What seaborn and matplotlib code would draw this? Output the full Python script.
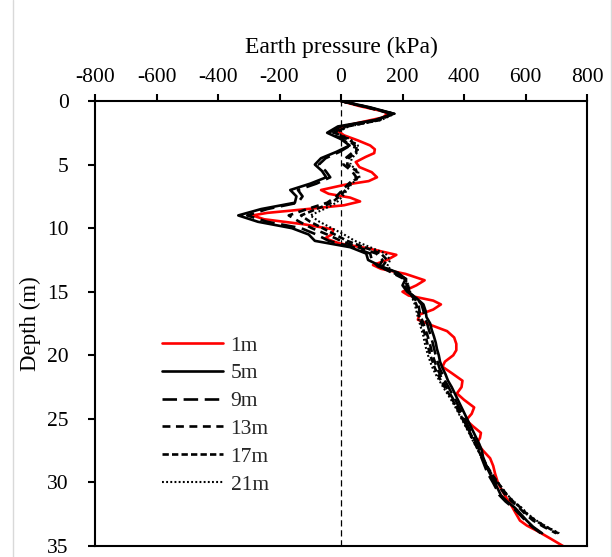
import matplotlib
matplotlib.use("Agg")
import matplotlib.pyplot as plt
import matplotlib.lines as mlines
import seaborn as sns
import pandas as pd

# Earth pressure profiles along depth for several excavation stages
depth_1m = [0, 0.4, 0.8, 1.0, 1.3, 1.7, 2.0, 2.3, 2.7, 3.1, 3.5, 3.8, 4.1, 4.4, 4.8,
            5.2, 5.6, 6.0, 6.3, 6.6, 7.0, 7.3, 7.6, 7.9, 8.2, 8.5, 8.8, 9.0, 9.3,
            9.7, 10.1, 10.5, 10.8, 11.2, 11.6, 12.1, 12.5, 12.9, 13.2, 13.6, 14.1,
            14.5, 15.0, 15.3, 15.7, 16.0, 16.4, 16.8, 17.2, 17.6, 18.1, 18.6, 19.1,
            19.6, 20.0, 20.5, 20.9, 21.4, 22.0, 22.5, 23.0, 23.5, 24.1, 24.6, 25.1,
            25.6, 26.1, 26.5, 26.9, 27.5, 28.1, 28.7, 29.3, 30.0, 30.6, 31.3, 31.9,
            32.5, 33.0, 33.4, 33.8, 34.4, 35.0]
pressure_1m = [0, 60, 135, 152, 135, 60, 5, -14, 10, 55, 95, 110, 108, 80, 48,
               60, 100, 117, 90, 10, -65, -40, 30, 62, 10, -110, -240, -288, -250,
               -120, -25, -30, -52, -5, 90, 180, 150, 104, 130, 210, 272,
               245, 200, 220, 300, 325, 300, 255, 250, 290, 345, 368, 375,
               375, 365, 338, 330, 360, 395, 392, 377, 400, 433, 425, 407,
               430, 455, 452, 442, 462, 485, 495, 501, 510, 523, 540, 556,
               570, 582, 605, 637, 680, 722]

# Depth stations shared by the deeper stages (0 to 34 m, every 0.5 m)
depth = [0, 0.5, 1, 1.5, 2, 2.5, 3, 3.5, 4, 4.5, 5, 5.5, 6, 6.5, 7, 7.5, 8, 8.5,
         9, 9.5, 10, 10.5, 11, 11.5, 12, 12.5, 13, 13.5, 14, 14.5, 15, 15.5, 16,
         16.5, 17, 17.5, 18, 18.5, 19, 19.5, 20, 20.5, 21, 21.5, 22, 22.5, 23,
         23.5, 24, 24.5, 25, 25.5, 26, 26.5, 27, 27.5, 28, 28.5, 29, 29.5, 30,
         30.5, 31, 31.5, 32, 32.5, 33, 33.5, 34]

pressure_5m = [0, 95, 172, 110, -10, -45, 0, 28, -15, -65, -85, -62, -48, -100,
               -165, -145, -150, -260, -334, -270, -160, -105, -85, 30, 82, 88,
               130, 185, 210, 200, 215, 245, 268, 275, 278, 290, 295, 302, 308,
               312, 318, 322, 330, 340, 348, 360, 370, 380, 390, 400, 410, 420,
               430, 440, 450, 458, 462, 470, 478, 488, 500, 510, 520, 540, 566,
               585, 604, 625, 654]
pressure_9m = [0, 90, 168, 115, 0, -40, 5, 30, -5, -50, -72, -50, -35, -80,
               -140, -125, -140, -240, -305, -240, -130, -80, -40, 40, 95, 100,
               120, 175, 212, 205, 218, 245, 262, 268, 272, 280, 286, 292, 298,
               303, 308, 314, 320, 330, 338, 350, 360, 372, 382, 392, 402, 412,
               422, 432, 442, 450, 456, 464, 472, 482, 494, 505, 515, 535, 560,
               580, 600, 622, 650]
pressure_13m = [0, 85, 165, 120, 15, -25, 20, 45, 40, 15, 8, 35, 50, 25, 5, -15,
                -45, -110, -170, -135, -95, -45, 0, 55, 115, 135, 125, 165, 205,
                215, 220, 238, 252, 255, 260, 268, 275, 282, 288, 293, 298, 305,
                312, 322, 330, 342, 354, 366, 377, 387, 397, 407, 418, 428, 438,
                448, 458, 468, 480, 492, 506, 520, 535, 555, 580, 600, 625, 660,
                700]
pressure_17m = [0, 88, 170, 125, 20, -20, 25, 50, 50, 25, 20, 50, 55, 30, 15, -5,
                -30, -80, -130, -100, -60, -20, 20, 75, 130, 150, 135, 170, 208,
                218, 222, 235, 245, 250, 255, 262, 268, 275, 280, 285, 290, 298,
                305, 315, 325, 337, 350, 362, 374, 384, 395, 405, 416, 426, 437,
                447, 458, 470, 482, 495, 510, 525, 540, 560, 585, 605, 632, 668,
                706]
pressure_21m = [0, 85, 175, 130, 25, -15, 30, 55, 55, 35, 30, 55, 60, 35, 20, 5,
                -15, -55, -100, -70, -30, 10, 45, 95, 145, 160, 150, 175, 210,
                220, 225, 232, 240, 245, 250, 256, 262, 268, 272, 277, 283, 290,
                298, 308, 320, 332, 345, 358, 370, 381, 392, 403, 414, 424, 435,
                446, 457, 469, 481, 495, 510, 526, 542, 562, 588, 608, 636, 670,
                710]

labels = ["1m", "5m", "9m", "13m", "17m", "21m"]
x_ticks = [-800, -600, -400, -200, 0, 200, 400, 600, 800]
y_ticks = [0, 5, 10, 15, 20, 25, 30, 35]

series = [
    (labels[0], depth_1m, pressure_1m, "#ff0000", "-", 1.9),
    (labels[1], depth, pressure_5m, "black", "-", 1.9),
    (labels[2], depth, pressure_9m, "black", (0, (5.5, 2.5)), 1.9),
    (labels[3], depth, pressure_13m, "black", (0, (3, 2.1)), 1.9),
    (labels[4], depth, pressure_17m, "black", (0, (2.4, 1.2)), 1.9),
    (labels[5], depth, pressure_21m, "black", (0, (0.9, 1.1)), 1.5),
]

sns.set_theme(style="white")
plt.rcParams["font.family"] = ["Liberation Serif", "DejaVu Serif"]

fig = plt.figure(figsize=(6.12, 5.57), dpi=100)
ax = fig.add_axes([95 / 612, 11 / 557, 492 / 612, 445 / 557])

for name, d, p, color, ls, lw in series:
    df = pd.DataFrame({"pressure": p, "depth": d})
    sns.lineplot(data=df, x="pressure", y="depth", sort=False, estimator=None,
                 color=color, linestyle=ls, linewidth=lw, label=name, ax=ax,
                 dash_capstyle="butt")

# zero-pressure reference line
ax.axvline(0, color="black", linestyle=(0, (5, 3)), linewidth=0.9, zorder=0)

ax.set_xlim(-800, 800)
ax.set_ylim(35, 0)
ax.set_xticks(x_ticks)
ax.set_yticks(y_ticks)
ax.set_xticklabels([str(v) for v in x_ticks])
ax.set_yticklabels([str(v) for v in y_ticks])

ax.xaxis.tick_top()
ax.xaxis.set_label_position("top")
ax.tick_params(axis="x", direction="out", length=5, width=1.5, pad=5,
               labelsize=15.5, colors="black")
ax.tick_params(axis="y", direction="out", length=5, width=1.5, pad=14,
               labelsize=15.5, colors="black", left=True)

ax.set_xlabel("Earth pressure (kPa)", fontsize=17, color="black")
ax.set_ylabel("Depth (m)", fontsize=16.5, color="black")
ax.xaxis.label.set_va("center")
ax.yaxis.label.set_va("center")
ax.xaxis.set_label_coords(0.5, (546 - 47) / 445)
ax.yaxis.set_label_coords((30 - 95) / 492, 0.5)

for sp in ax.spines.values():
    sp.set_visible(True)
    sp.set_color("black")
    sp.set_linewidth(1.5)

leg = ax.legend(loc="upper left", bbox_to_anchor=(0.118, 0.4925), frameon=False,
                fontsize=15.5, handlelength=2.85, handletextpad=0.35,
                labelspacing=0.36, borderaxespad=0)

# thin grey chart-area frame at the sides
for xf in (12.5 / 612, 610.5 / 612):
    fig.add_artist(mlines.Line2D([xf, xf], [0, 1], transform=fig.transFigure,
                                 color="#d9d9d9", linewidth=1))

fig.savefig("out.png", dpi=100, facecolor="white")
